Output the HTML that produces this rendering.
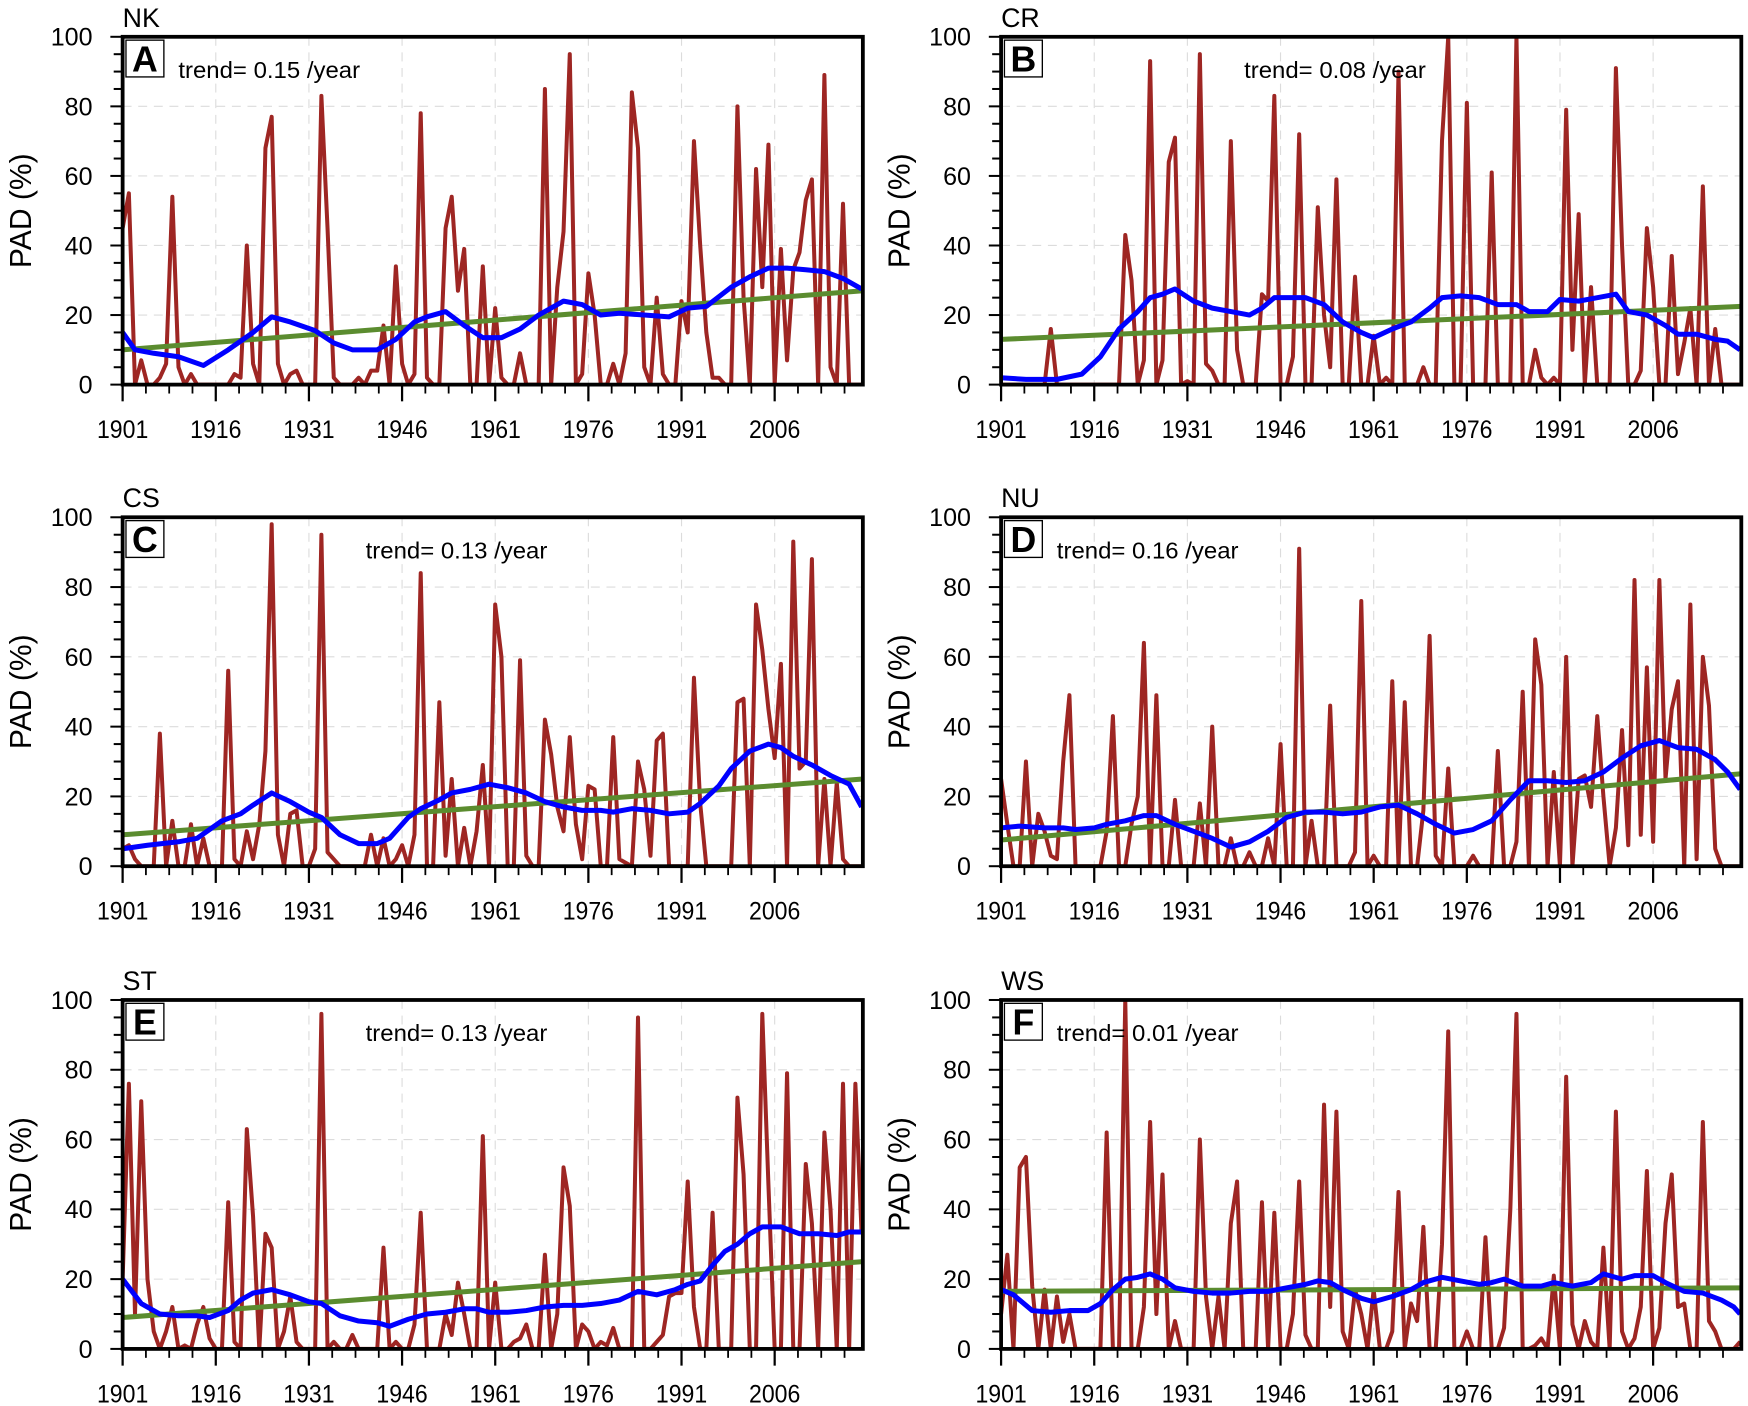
<!DOCTYPE html>
<html><head><meta charset="utf-8"><style>
html,body{margin:0;padding:0;background:#fff;}
svg{display:block;}
text{font-family:"Liberation Sans",sans-serif;}
</style></head><body>
<svg id="chart" width="1748" height="1406" viewBox="0 0 1568 1261.2" xmlns="http://www.w3.org/2000/svg"></svg>
<script>
const panelNames = ["NK","CR","CS","NU","ST","WS"];
const panelLetters = ["A","B","C","D","E","F"];
const trendLabels = ["trend= 0.15 /year","trend= 0.08 /year","trend= 0.13 /year","trend= 0.16 /year","trend= 0.13 /year","trend= 0.01 /year"];
const yTicks = [0,20,40,60,80,100];
const xTicks = [1901,1916,1931,1946,1961,1976,1991,2006];
const startYear = 1901;

const padA = [45,55,0,7,0,0,2,6,54,5, 0,3,0,0,0,0,0,0,3,2, 40,6,0,68,77,6,0,3,4,0, 0,0,83,45,2,0,0,0,2,0, 4,4,17,0,34,6,0,3,78,2, 0,0,45,54,27,39,0,0,34,0, 22,2,0,0,9,0,0,0,85,0, 28,44,95,0,3,32,20,0,0,6, 0,9,84,68,5,0,25,3,0,0, 24,15,70,40,15,2,2,0,0,80, 25,0,62,28,69,0,39,7,33,38, 53,59,0,89,5,0,52,0,0,0];
const padB = [0,0,0,0,0,0,0,0,16,0, 0,0,0,0,0,0,0,0,0,0, 43,30,0,7,93,0,7,64,71,0, 1,0,95,6,4,0,0,70,10,0, 0,0,26,24,83,0,0,8,72,0, 0,51,20,5,59,0,0,31,0,0, 14,0,2,0,90,0,0,0,5,0, 0,70,100,0,0,81,0,0,0,61, 0,0,0,100,0,0,10,2,0,2, 0,79,10,49,0,28,0,0,0,91, 40,0,0,4,45,28,0,0,37,3, 12,22,0,57,0,16,0,0,0,0];
const padC = [5,6,2,0,0,0,38,0,13,0, 0,12,0,8,0,0,0,56,2,0, 10,2,12,33,98,9,0,15,16,0, 0,5,95,4,2,0,0,0,0,0, 9,0,8,0,2,6,0,9,84,0, 0,47,3,25,0,11,0,10,29,0, 75,60,0,0,59,3,0,0,42,32, 17,10,37,12,2,23,22,0,0,37, 2,1,0,30,22,3,36,38,0,0, 0,0,54,18,0,0,0,0,0,47, 48,0,75,62,45,31,58,0,93,28, 30,88,0,25,0,24,2,0,0,0];
const padD = [25,12,0,0,30,0,15,10,3,2, 30,49,0,0,0,0,0,10,43,0, 0,12,20,64,0,49,0,0,19,0, 0,0,18,0,40,0,0,8,0,0, 4,0,0,8,0,35,0,0,91,0, 13,0,0,46,0,0,0,4,76,0, 3,0,0,53,0,47,0,0,16,66, 3,0,28,0,0,0,3,0,0,0, 33,0,0,7,50,0,65,52,0,27, 0,60,0,25,26,17,43,20,0,11, 39,6,82,9,57,7,82,25,45,53, 0,75,2,60,46,5,0,0,0,0];
const padE = [20,76,10,71,20,5,0,5,12,0, 1,0,7,12,3,0,0,42,2,0, 63,38,0,33,29,0,5,15,2,0, 0,0,96,0,2,0,0,4,0,0, 0,0,29,0,2,0,0,7,39,0, 0,0,10,4,19,10,0,0,61,0, 19,0,0,2,3,7,0,0,27,0, 10,52,41,0,7,5,0,2,1,6, 0,0,0,95,0,0,2,4,15,16, 16,48,12,0,0,39,0,0,0,72, 50,0,0,96,47,0,0,79,0,0, 53,36,0,62,40,0,76,0,76,33];
const padF = [10,27,0,52,55,18,0,17,0,15, 2,10,0,0,0,0,0,62,0,0, 100,0,0,12,65,10,50,0,8,0, 0,0,60,15,0,15,0,36,48,0, 0,0,42,0,39,0,0,10,48,4, 0,0,70,12,68,5,0,17,10,0, 17,0,0,5,45,0,13,8,35,0, 0,30,91,0,0,5,0,0,32,0, 0,6,40,96,0,0,1,3,0,21, 0,78,7,0,8,2,0,29,0,68, 5,0,3,12,51,0,6,36,50,12, 13,0,0,65,8,5,0,0,0,2];

const smYearsA = [1901,1903,1906,1910,1914,1918,1922,1925,1928,1932,1935,1938,1942,1945,1948,1950,1953,1956,1959,1962,1965,1968,1972,1975,1978,1981,1985,1989,1992,1995,1999,2002,2005,2008,2011,2014,2017,2020];
const smValsA  = [15,10,9,8,5.5,10,15,19.5,18,15.5,12,10,10,13,18,19.5,21,17,13.5,13.5,16,20,24,23,20,20.5,20,19.5,22,22.5,28,31,33.5,33.5,33,32.5,30.5,27.5];
const smYearsB = [1901,1905,1910,1914,1917,1920,1923,1925,1927,1929,1932,1935,1938,1941,1943,1945,1948,1950,1953,1956,1959,1961,1964,1967,1970,1972,1975,1978,1981,1984,1986,1989,1991,1994,1997,2000,2002,2005,2008,2010,2013,2016,2018,2020];
const smValsB  = [2,1.5,1.5,3,8,16,21,25,26,27.5,24,22,21,20,22,25,25,25,23,18,15,13.5,16,18,22,25,25.5,25,23,23,21,21,24.5,24,25,26,21,20,17,14.5,14.5,13,12.5,10];
const smYearsC = [1901,1905,1910,1913,1917,1920,1922,1925,1928,1931,1933,1936,1939,1942,1944,1947,1949,1952,1954,1957,1960,1963,1966,1969,1972,1975,1978,1980,1983,1986,1989,1992,1994,1997,1999,2002,2005,2007,2009,2012,2015,2018,2020];
const smValsC  = [5,6,7,8,13,15,17.5,21,18.5,15.5,14,9,6.5,6.5,8,14,16.5,19,21,22,23.5,22.5,21,18.5,17,16,16,15.5,16.5,16,15,15.5,18,23,28,33,35,34,31.5,29,26,23.5,17];
const smYearsD = [1901,1904,1908,1911,1913,1916,1918,1921,1924,1926,1929,1932,1935,1938,1941,1944,1947,1950,1953,1956,1959,1962,1965,1968,1971,1974,1977,1980,1983,1986,1989,1992,1995,1998,2001,2004,2007,2010,2013,2016,2018,2020];
const smValsD  = [11,11.5,11,11,10.5,11,12,13,14.5,14.5,12,10,8,5.5,7,10,14,15.5,15.5,15,15.5,17,17.5,15,12,9.5,10.5,13,19,24.5,24.5,24,24.5,27,31,34.5,36,34,33.5,30.5,27,22];
const smYearsE = [1901,1904,1907,1910,1913,1915,1918,1920,1922,1925,1928,1931,1933,1936,1939,1942,1944,1947,1950,1953,1956,1958,1960,1963,1966,1969,1972,1975,1978,1981,1984,1987,1990,1992,1994,1996,1998,2000,2002,2004,2007,2010,2013,2016,2018,2020];
const smValsE  = [20,13,10,9.5,9.5,9,11,14,16,17,15.5,13.5,13,9.5,8,7.5,6.5,8.5,10,10.5,11.5,11.5,10.5,10.5,11,12,12.5,12.5,13,14,16.5,15.5,17,18.5,19.5,24,28,30,33,35,35,33,33,32.5,33.5,33.5];
const smYearsF = [1901,1903,1906,1909,1912,1915,1917,1919,1921,1923,1925,1927,1929,1932,1935,1938,1941,1944,1947,1950,1952,1954,1956,1959,1961,1964,1967,1969,1972,1975,1978,1980,1982,1985,1988,1990,1993,1996,1998,2001,2003,2006,2008,2011,2014,2017,2019,2020];
const smValsF  = [17,15.5,11,10.5,11,11,13,17,20,20.5,21.5,20,17.5,16.5,16,16,16.5,16.5,17.5,18.5,19.5,19,17,14.5,13.5,15,17,19,20.5,19.5,18.5,19,20,18,18,19,18,19,21.5,20,21,21,19,16.5,16,14,12,10];

const trendStart = [10,13,9,7.5,9,16.5];
const trendEnd   = [27,22.5,25,26.5,25,17.5];

const padSeries = [padA,padB,padC,padD,padE,padF];
const smYears = [smYearsA,smYearsB,smYearsC,smYearsD,smYearsE,smYearsF];
const smVals = [smValsA,smValsB,smValsC,smValsD,smValsE,smValsF];

const NS = "http://www.w3.org/2000/svg";
const svg = document.getElementById("chart");
const colX = [110, 898];
const rowY = [[33,345],[464,777],[897,1210]];
const W = 664;
const trendX = [160,1116,328,948,328,948];
const xMin = 1901, xMax = 2020.2;

function mk(tag, attrs, parent){
  const e = document.createElementNS(NS, tag);
  for (const k in attrs) e.setAttribute(k, attrs[k]);
  (parent||svg).appendChild(e);
  return e;
}

for (let p = 0; p < 6; p++) {
  const x0 = colX[p % 2], x1 = x0 + W;
  const y0 = rowY[Math.floor(p/2)][0], y1 = rowY[Math.floor(p/2)][1];
  const sx = yr => x0 + (yr - xMin) / (xMax - xMin) * (x1 - x0);
  const sy = v => y1 - v / 100 * (y1 - y0);
  const g = mk("g", {});
  
  

  const clipId = "clip" + p;
  const cp = mk("clipPath", {id: clipId}, g);
  mk("rect", {x: x0, y: y0, width: x1 - x0, height: y1 - y0}, cp);

  for (const t of yTicks) {
    if (t === 0 || t === 100) continue;
    const gl = mk("line", {x1: x0, x2: x1, y1: sy(t), y2: sy(t), stroke: "#dcdcdc", "stroke-width": 1, "stroke-dasharray": "8,6"}, g);
    
    
  }
  for (const t of xTicks) {
    if (t === xMin) continue;
    const gl = mk("line", {x1: sx(t), x2: sx(t), y1: y0, y2: y1, stroke: "#dcdcdc", "stroke-width": 1, "stroke-dasharray": "8,6"}, g);
    
    
  }

  for (let v = 0; v <= 100; v += 5) {
    const major = v % 20 === 0;
    const tk = mk("line", {x1: x0 - (major ? 11 : 8), x2: x0, y1: sy(v), y2: sy(v), stroke: "#000", "stroke-width": 1.8}, g);
    
    
  }
  for (const t of yTicks) {
    const s = String(t);
    const tl = mk("text", {x: x0 - 27, y: sy(t) + 8, "text-anchor": "end", "font-size": 22, textLength: s.length * 12.5, lengthAdjust: "spacingAndGlyphs"}, g);
    tl.textContent = s;
    
    
  }
  for (let i = 0; i < xTicks.length; i++) {
    const t = xTicks[i];
    const tk = mk("line", {x1: sx(t), x2: sx(t), y1: y1, y2: y1 + 15, stroke: "#000", "stroke-width": 2}, g);
    
    
    for (let k = 1; k < 4; k++) {
      const m = t + k * 3.75;
      if (m > xMax) break;
      const mt = mk("line", {x1: sx(m), x2: sx(m), y1: y1, y2: y1 + 8, stroke: "#000", "stroke-width": 1.6}, g);
      
      
    }
    const tl = mk("text", {x: sx(t) - 23, y: y1 + 48, "font-size": 22, textLength: 46, lengthAdjust: "spacingAndGlyphs"}, g);
    tl.textContent = t;
    
    
  }

  const pts = padSeries[p].map((v, i) => sx(startYear + i).toFixed(1) + "," + sy(v).toFixed(1)).join(" ");
  const red = mk("polyline", {points: pts, fill: "none", stroke: "#9e2623", "stroke-width": 3.6, "stroke-linejoin": "round", "clip-path": "url(#" + clipId + ")"}, g);
  
  

  const tr = mk("line", {x1: sx(xMin), y1: sy(trendStart[p]), x2: sx(xMax), y2: sy(trendEnd[p]), stroke: "#5b8c2f", "stroke-width": 4.5}, g);
  
  

  const sp = smYears[p].map((yr, i) => sx(yr).toFixed(1) + "," + sy(smVals[p][i]).toFixed(1)).join(" ");
  const bl = mk("polyline", {points: sp, fill: "none", stroke: "#0000ff", "stroke-width": 4.5, "stroke-linejoin": "round", "clip-path": "url(#" + clipId + ")"}, g);
  
  

  const fr = mk("rect", {x: x0, y: y0, width: x1 - x0, height: y1 - y0, fill: "none", stroke: "#000", "stroke-width": 3.4}, g);
  
  

  const lb = mk("rect", {x: x0 + 3, y: y0 + 3, width: 34, height: 33, fill: "#fff", stroke: "#000", "stroke-width": 1.2}, g);
  
  
  const lt = mk("text", {x: x0 + 20, y: y0 + 31, "text-anchor": "middle", "font-size": 32, "font-weight": "bold"}, g);
  lt.textContent = panelLetters[p];
  
  

  const ti = mk("text", {x: x0, y: y0 - 9, "font-size": 24}, g);
  ti.textContent = panelNames[p];
  
  

  const tt = mk("text", {x: trendX[p], y: y0 + 37, "font-size": 21, textLength: 163, lengthAdjust: "spacingAndGlyphs"}, g);
  tt.textContent = trendLabels[p];
  
  

  const cy = (y0 + y1) / 2;
  const ax = x0 - 82;
  const yt = mk("text", {x: ax, y: cy, "text-anchor": "middle", "font-size": 27, transform: "rotate(-90 " + ax + " " + cy + ")"}, g);
  yt.textContent = "PAD (%)";
  
  
}
</script>
</body></html>
